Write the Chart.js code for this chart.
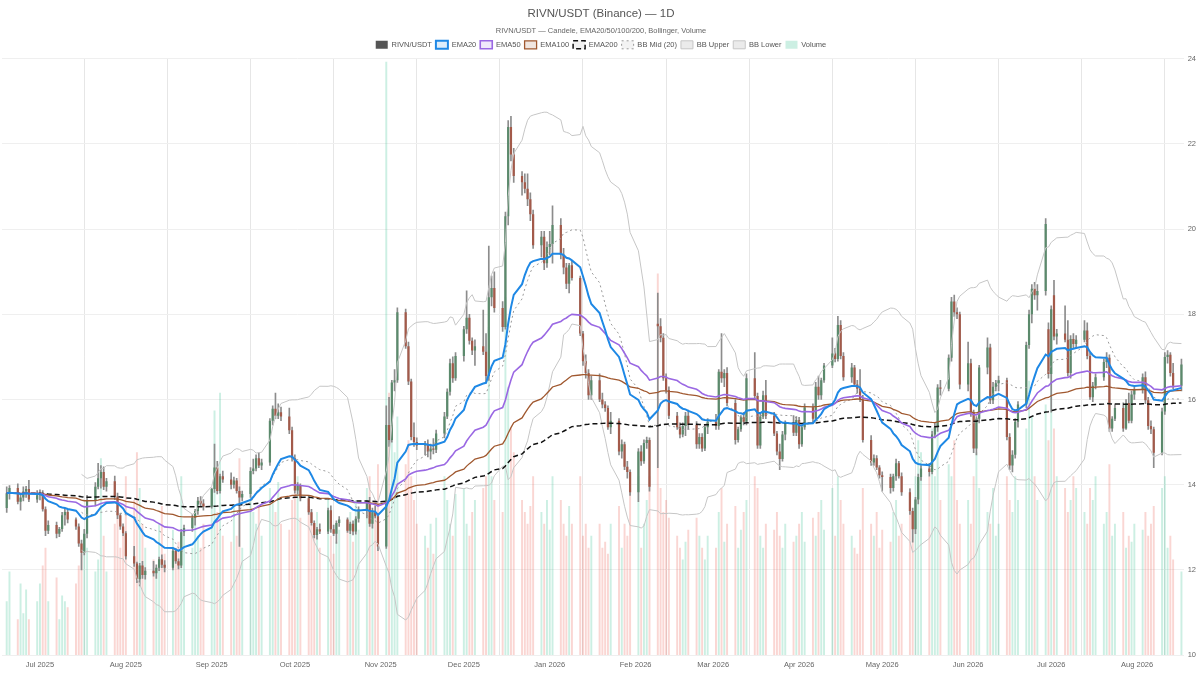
<!DOCTYPE html>
<html>
<head>
<meta charset="utf-8">
<script src="https://cdn.jsdelivr.net/npm/chart.js@4.4.1/dist/chart.umd.min.js"></script>
<style>
  html, body { margin: 0; background: #fff; }
  #wrap { width: 1200px; height: 675px; }
</style>
</head>
<body>
<div id="wrap"><canvas id="chart"></canvas></div>
<script>
// weekday candles (tokenised stock, no weekend sessions), first one Thu 2025-06-19
const startDate = '2025-06-19';

// one row per week
const opens = [
  13.45,13.80,
  13.92,13.60,13.70,13.84,13.90,
  13.65,13.75,13.80,13.42,12.92,
  13.05,12.85,12.96,13.28,13.36,
  13.18,13.02,12.62,12.40,12.85,
  13.62,13.95,14.15,14.30,13.95,
  14.08,13.72,13.28,13.02,12.86,
  12.32,12.15,11.78,12.10,11.88,
  11.98,11.92,12.05,12.25,12.12,
  12.05,12.45,12.20,12.10,12.88,
  12.98,13.22,13.38,13.62,13.56,
  13.48,13.90,14.40,13.85,14.20,
  14.12,14.00,14.10,13.85,13.70,
  13.78,14.32,14.38,14.62,14.45,
  14.52,15.50,15.78,15.62,15.70,
  15.60,15.28,14.62,13.86,13.98,
  13.68,13.35,13.10,12.82,12.95,
  12.90,13.40,12.95,12.85,13.10,
  13.18,12.92,13.08,12.90,13.20,
  13.42,13.58,13.08,13.35,13.26,
  12.55,15.40,15.05,16.40,16.45,
  18.05,17.25,16.42,15.12,15.00,
  14.92,14.96,14.78,14.85,14.82,
  15.20,15.60,16.18,16.85,16.50,
  17.02,17.65,17.92,17.38,17.15,
  17.25,17.12,16.55,18.40,18.62,
  18.15,17.70,20.30,22.40,21.75,
  21.25,21.10,20.95,20.70,20.35,
  19.62,19.82,19.20,19.58,19.65,
  20.10,19.40,19.10,18.72,19.15,
  18.85,17.55,16.90,16.62,16.10,
  16.45,16.00,15.88,15.80,15.35,
  15.50,14.78,14.95,14.42,14.30,
  13.82,14.78,14.55,14.98,15.05,
  17.78,17.72,17.45,16.50,16.22,
  15.62,15.35,15.18,15.38,15.62,
  15.40,14.95,15.12,14.85,15.35,
  15.48,15.38,16.65,16.50,16.62,
  15.92,15.05,15.30,15.58,15.48,
  16.50,16.08,14.92,15.60,16.10,
  15.62,15.20,14.78,14.60,15.18,
  15.45,15.22,15.52,14.95,15.35,
  15.82,15.55,16.30,16.10,16.45,
  16.80,17.08,16.95,17.75,17.02,
  16.52,16.75,16.35,16.25,16.00,
  15.05,14.52,14.62,14.40,14.22,
  14.18,13.92,14.20,14.50,14.20,
  13.82,13.38,12.95,13.65,14.18,
  14.38,14.30,15.18,15.35,16.28,
  16.25,16.98,18.30,18.05,18.00,
  16.35,16.85,15.70,14.85,15.55,
  16.75,17.22,15.98,16.30,16.38,
  16.45,15.12,14.45,14.70,15.48,
  15.88,17.28,18.00,18.60,18.45,
  18.55,17.65,16.60,18.45,17.48,
  17.55,17.40,16.62,17.42,17.30,
  17.40,17.62,17.02,16.05,16.32,
  16.52,16.88,16.98,15.32,15.55,
  15.80,15.32,15.92,15.50,16.12,
  16.22,16.52,15.98,15.38,15.30,
  14.75,15.72,17.00,17.05,16.62,
  16.32
];

const highs = [
  13.95,13.98,
  14.02,13.78,13.95,13.96,14.10,
  13.86,13.88,13.86,13.48,13.15,
  13.12,13.00,13.35,13.45,13.42,
  13.22,13.08,12.70,12.95,13.75,
  14.05,14.50,14.45,14.42,14.15,
  14.20,13.80,13.32,13.08,12.90,
  12.55,12.18,12.15,12.20,12.05,
  12.20,12.12,12.30,12.35,12.22,
  12.50,12.50,12.26,12.95,13.05,
  13.30,13.42,13.70,13.72,13.65,
  13.92,14.95,14.55,14.25,14.32,
  14.28,14.18,14.15,13.95,13.85,
  14.40,14.60,14.70,14.75,14.60,
  15.55,15.85,16.15,15.90,15.82,
  15.80,15.35,14.70,14.05,14.02,
  13.75,13.42,13.15,13.00,13.08,
  13.45,13.50,13.05,13.15,13.25,
  13.22,13.12,13.15,13.25,13.48,
  13.62,13.70,13.45,13.50,13.32,
  15.85,16.05,16.45,16.70,18.15,
  18.12,17.35,16.48,15.45,15.10,
  15.02,15.05,14.95,15.08,15.28,
  15.70,16.25,16.95,17.00,17.10,
  17.72,18.55,18.00,17.45,17.40,
  18.10,17.55,19.60,18.90,19.00,
  18.30,20.40,22.55,22.65,21.90,
  21.35,21.30,21.30,20.85,20.45,
  19.95,19.95,19.70,19.95,20.55,
  20.25,19.55,19.20,19.20,19.25,
  18.90,17.60,17.05,16.70,16.55,
  16.60,16.15,15.95,15.85,15.70,
  15.55,15.05,15.00,14.55,14.35,
  14.85,14.92,15.05,15.12,15.10,
  18.50,17.90,17.55,16.60,16.30,
  15.70,15.45,15.45,15.70,15.75,
  15.48,15.20,15.20,15.40,15.55,
  15.65,16.70,17.55,16.70,16.75,
  16.00,15.35,15.62,15.70,16.60,
  17.10,16.15,15.65,16.20,16.45,
  15.70,15.25,14.95,15.25,15.50,
  15.62,15.60,15.58,15.40,15.90,
  15.90,16.40,16.55,16.50,16.85,
  17.45,17.20,17.95,17.85,17.10,
  16.85,16.80,16.45,16.70,16.10,
  15.15,14.70,14.68,14.45,14.30,
  14.25,14.25,14.60,14.55,14.28,
  13.90,13.45,13.70,14.25,14.45,
  14.50,15.25,15.45,16.35,16.45,
  17.05,18.40,18.45,18.15,18.05,
  17.35,16.95,15.75,15.60,16.80,
  17.45,17.30,16.40,16.45,16.55,
  16.50,15.20,14.80,15.55,15.95,
  17.35,18.10,18.70,18.75,18.70,
  20.25,17.80,18.20,18.80,17.65,
  18.20,17.85,17.50,17.55,17.50,
  17.85,17.80,17.10,16.40,16.60,
  16.95,17.10,17.05,15.60,15.90,
  15.92,16.00,16.15,16.20,16.30,
  16.60,16.65,16.05,15.50,15.35,
  15.80,17.10,17.15,17.10,16.85,
  16.95
];

const lows = [
  13.35,13.66,
  13.55,13.40,13.62,13.70,13.60,
  13.58,13.64,13.38,12.80,12.85,
  12.75,12.78,12.90,13.05,13.10,
  12.95,12.55,12.00,12.35,12.75,
  13.50,13.90,13.92,13.88,13.85,
  13.65,13.20,12.95,12.80,12.25,
  12.08,11.70,11.62,11.80,11.78,
  11.85,11.80,11.98,12.05,11.95,
  12.00,12.15,12.02,12.05,12.80,
  12.90,13.05,13.30,13.50,13.40,
  13.45,13.82,13.78,13.80,14.05,
  13.90,13.92,13.80,12.55,13.62,
  13.70,14.25,14.32,14.40,14.35,
  14.45,15.40,15.55,15.55,15.50,
  15.20,14.55,13.80,13.78,13.62,
  13.30,13.05,12.75,12.72,12.85,
  12.85,12.88,12.80,12.62,13.02,
  12.88,12.85,12.82,12.84,13.12,
  13.22,13.02,12.98,13.22,12.45,
  12.50,14.90,15.00,16.20,16.40,
  17.20,16.35,15.05,14.90,14.82,
  14.70,14.65,14.60,14.72,14.75,
  15.10,15.55,16.10,16.40,16.45,
  16.90,17.55,17.30,17.05,16.80,
  17.05,16.40,16.45,18.20,18.05,
  17.60,17.65,20.10,21.60,21.10,
  20.80,20.85,20.55,20.20,19.55,
  19.35,19.05,19.10,19.40,19.20,
  19.30,18.95,18.60,18.50,18.80,
  17.50,16.80,16.50,16.00,16.00,
  15.95,15.80,15.72,15.30,15.20,
  14.70,14.62,14.35,14.15,13.75,
  13.60,14.45,14.50,14.85,13.85,
  14.40,17.35,16.45,16.15,15.55,
  15.30,15.10,15.12,15.15,15.30,
  14.85,14.85,14.78,14.80,15.20,
  15.30,15.30,16.40,16.30,15.85,
  14.95,15.00,15.25,15.40,15.40,
  16.00,14.85,14.85,15.55,15.55,
  15.15,14.70,14.35,14.55,15.05,
  15.15,15.15,14.85,14.90,15.30,
  15.45,15.50,16.00,16.00,16.40,
  16.75,16.88,16.90,16.95,16.45,
  16.40,16.30,16.15,15.95,15.00,
  14.45,14.45,14.35,14.15,13.85,
  13.80,13.85,14.10,14.15,13.75,
  13.30,12.65,12.85,13.55,14.10,
  14.20,14.25,15.10,15.25,16.10,
  16.20,16.90,17.95,17.90,16.25,
  16.20,15.60,14.75,14.70,15.45,
  16.60,15.90,15.90,16.20,16.20,
  15.05,14.35,14.30,14.62,15.35,
  15.80,17.20,17.80,18.35,18.10,
  18.45,16.50,15.70,17.40,17.30,
  17.35,16.55,16.50,17.20,17.20,
  17.35,16.95,16.00,15.95,16.25,
  16.45,16.75,15.25,15.25,15.50,
  15.25,15.30,15.45,15.45,16.00,
  16.15,15.90,15.30,15.20,14.40,
  14.70,15.65,16.85,16.55,16.25,
  16.20
];

const closes = [
  13.80,13.92,
  13.60,13.70,13.84,13.90,13.65,
  13.75,13.80,13.42,12.92,13.05,
  12.85,12.96,13.28,13.36,13.18,
  13.02,12.62,12.40,12.85,13.62,
  13.95,14.15,14.30,13.95,14.08,
  13.72,13.28,13.02,12.86,12.32,
  12.15,11.78,12.10,11.88,11.98,
  11.92,12.05,12.25,12.12,12.05,
  12.45,12.20,12.10,12.88,12.98,
  13.22,13.38,13.62,13.56,13.48,
  13.90,14.40,13.85,14.20,14.12,
  14.00,14.10,13.85,13.70,13.78,
  14.32,14.38,14.62,14.45,14.52,
  15.50,15.78,15.62,15.70,15.60,
  15.28,14.62,13.86,13.98,13.68,
  13.35,13.10,12.82,12.95,12.90,
  13.40,12.95,12.85,13.10,13.18,
  12.92,13.08,12.90,13.20,13.42,
  13.58,13.08,13.35,13.26,12.55,
  15.40,15.05,16.40,16.45,18.05,
  17.25,16.42,15.12,15.00,14.92,
  14.96,14.78,14.85,14.82,15.20,
  15.60,16.18,16.85,16.50,17.02,
  17.65,17.92,17.38,17.15,17.25,
  17.12,16.55,18.40,18.62,18.15,
  17.70,20.30,22.40,21.75,21.25,
  21.10,20.95,20.70,20.35,19.62,
  19.82,19.20,19.58,19.65,20.10,
  19.40,19.10,18.72,19.15,18.85,
  17.55,16.90,16.62,16.10,16.45,
  16.00,15.88,15.80,15.35,15.50,
  14.78,14.95,14.42,14.30,13.82,
  14.78,14.55,14.98,15.05,13.95,
  17.72,17.45,16.50,16.22,15.62,
  15.35,15.18,15.38,15.62,15.40,
  14.95,15.12,14.85,15.35,15.48,
  15.38,16.65,16.50,16.62,15.92,
  15.05,15.30,15.58,15.48,16.50,
  16.08,14.92,15.60,16.10,15.62,
  15.20,14.78,14.60,15.18,15.45,
  15.22,15.52,14.95,15.35,15.82,
  15.55,16.30,16.10,16.45,16.80,
  17.08,16.95,17.75,17.02,16.52,
  16.75,16.35,16.25,16.00,15.05,
  14.52,14.62,14.40,14.22,14.18,
  13.92,14.20,14.50,14.20,13.82,
  13.38,12.95,13.65,14.18,14.38,
  14.30,15.18,15.35,16.28,16.25,
  16.98,18.30,18.05,18.00,16.35,
  16.85,15.70,14.85,15.55,16.75,
  17.22,15.98,16.30,16.38,16.45,
  15.12,14.45,14.70,15.48,15.88,
  17.28,18.00,18.60,18.45,18.55,
  20.12,16.60,18.12,17.48,17.55,
  17.40,16.62,17.42,17.30,17.40,
  17.62,17.02,16.05,16.32,16.52,
  16.88,16.98,15.32,15.55,15.80,
  15.32,15.92,15.50,16.12,16.22,
  16.52,15.98,15.38,15.30,14.75,
  15.72,17.00,17.05,16.62,16.32,
  16.82
];

// volume, relative units (share of plot height)
const volumes = [
  9,14,
  6,12,7,11,6,
  9,12,15,18,9,
  13,6,10,9,8,
  12,15,17,21,18,
  14,16,33,20,14,
  22,25,18,20,30,
  26,34,28,22,18,
  16,14,22,25,17,
  21,18,19,30,20,
  18,23,20,18,22,
  28,41,24,44,20,
  19,25,20,33,18,
  28,24,22,25,20,
  28,26,24,29,22,
  21,26,28,30,23,
  25,22,20,24,18,
  26,20,17,19,21,
  22,24,19,26,21,
  28,30,24,26,32,
  99.5,44,38,34,40,
  32,36,30,26,22,
  20,18,22,17,23,
  30,26,22,20,27,
  28,22,20,24,26,
  28,30,55,30,26,
  24,60,45,38,34,
  26,24,22,25,30,
  24,22,26,21,30,
  26,22,20,25,22,
  30,20,22,18,20,
  22,18,19,17,22,
  25,18,22,20,28,
  30,18,22,26,30,
  64,28,24,26,23,
  20,18,16,19,21,
  23,20,18,16,20,
  18,24,28,19,22,
  25,18,21,24,26,
  30,28,20,18,22,
  21,24,20,18,22,
  19,20,22,24,19,
  23,20,24,26,21,
  28,20,30,26,22,
  20,18,17,21,28,
  22,20,24,18,21,
  19,24,26,20,22,
  28,24,30,36,34,
  30,38,30,40,26,
  32,30,36,26,22,
  26,22,30,34,28,
  24,22,28,20,22,
  30,26,24,30,26,
  38,46,40,30,26,
  42,36,55,38,30,
  28,24,26,30,28,
  24,22,28,26,30,
  22,24,32,20,22,
  24,18,20,19,22,
  21,24,20,22,25,
  28,30,18,20,16,
  14
];

const priceTicks = [10, 12, 14, 16, 18, 20, 22, 24];
const monthNames = ['Jan','Feb','Mar','Apr','May','Jun','Jul','Aug','Sep','Oct','Nov','Dec'];

// trading days -> day offsets from the first candle
const DAY = 86400000;
const t0 = Date.parse(startDate + 'T00:00:00Z');
const days = [];
for (let d = 0; days.length < closes.length; d++) {
  const wd = new Date(t0 + d * DAY).getUTCDay();
  if (wd !== 0 && wd !== 6) days.push(d);
}
const lastDay = days[days.length - 1];

// month starts for the axis labels, a light grid line every 30 days
const monthTicks = {};
for (let d = 0; d <= lastDay + 1; d++) {
  const dt = new Date(t0 + d * DAY);
  if (dt.getUTCDate() === 1) monthTicks[d] = monthNames[dt.getUTCMonth()] + ' ' + dt.getUTCFullYear();
}
const gridDays = [];
for (let d = 28; d <= lastDay; d += 30) gridDays.push(d);

const ema = (src, n) => {
  const k = 2 / (n + 1);
  const out = [];
  src.forEach((v, i) => out.push(i === 0 ? v : v * k + out[i - 1] * (1 - k)));
  return out;
};

const bollinger = (src, n, mult) => {
  const mid = [], up = [], lo = [];
  src.forEach((v, i) => {
    if (i < n - 1) { mid.push(null); up.push(null); lo.push(null); return; }
    const win = src.slice(i - n + 1, i + 1);
    const m = win.reduce((a, b) => a + b, 0) / n;
    const sd = Math.sqrt(win.reduce((a, b) => a + (b - m) * (b - m), 0) / n);
    mid.push(m); up.push(m + mult * sd); lo.push(m - mult * sd);
  });
  return { mid, up, lo };
};

const xy = arr => arr.map((v, i) => ({ x: days[i], y: v }));
const bb = bollinger(closes, 20, 2);
const isUp = closes.map((c, i) => c >= opens[i]);
const candleCol = isUp.map(u => u ? '#5b8a6c' : '#a35a4a');
const volCol = isUp.map(u => u ? 'rgba(40,190,140,0.24)' : 'rgba(235,95,85,0.26)');

const lineDs = (label, data, color, fillColor, width, dash, order) => ({
  type: 'line', label, data: xy(data),
  borderColor: color, backgroundColor: fillColor,
  borderWidth: width, borderDash: dash || [],
  pointRadius: 0, fill: false, tension: 0, order
});

const tickFont = { size: 7.5 };

new Chart(document.getElementById('chart'), {
  type: 'bar',
  data: {
    datasets: [
      { label: 'RIVN/USDT', data: opens.map((o, i) => ({ x: days[i], y: [o, closes[i]] })),
        backgroundColor: candleCol, borderColor: candleCol, borderWidth: 0,
        barPercentage: 0.8, categoryPercentage: 1, grouped: false, minBarLength: 1, order: 4 },
      lineDs('EMA20', ema(closes, 20), '#1e88e5', 'rgba(30,136,229,0.15)', 2, null, 1),
      lineDs('EMA50', ema(closes, 50), '#9a68e3', 'rgba(154,104,227,0.15)', 1.6, null, 1),
      lineDs('EMA100', ema(closes, 100), '#a0582f', 'rgba(160,88,47,0.15)', 1.3, null, 1),
      lineDs('EMA200', ema(closes, 200), '#111111', 'rgba(0,0,0,0.05)', 1.5, [5, 3], 1),
      lineDs('BB Mid (20)', bb.mid, '#9a9a9a', 'rgba(160,160,160,0.12)', 1, [2, 3], 2),
      lineDs('BB Upper', bb.up, '#c6c6c6', 'rgba(190,190,190,0.3)', 1, null, 2),
      lineDs('BB Lower', bb.lo, '#c6c6c6', 'rgba(190,190,190,0.3)', 1, null, 2),
      { label: 'Volume', data: xy(volumes), yAxisID: 'vol',
        backgroundColor: volCol, barPercentage: 0.7, categoryPercentage: 1,
        grouped: false, order: 10 },
      { label: 'wick', data: lows.map((l, i) => ({ x: days[i], y: [l, highs[i]] })),
        backgroundColor: '#8c8c8c', barThickness: 1, grouped: false, order: 5 }
    ]
  },
  options: {
    responsive: true,
    maintainAspectRatio: false,
    animation: false,
    devicePixelRatio: 1,
    layout: { padding: { left: 2, right: 0, top: 0, bottom: 1 } },
    font: { family: "'Liberation Sans', Arial, sans-serif" },
    scales: {
      x: {
        type: 'linear', min: -1.7, max: 424.8, offset: false,
        afterBuildTicks: axis => {
          const vals = Object.keys(monthTicks).map(Number).concat(gridDays);
          axis.ticks = vals.sort((a, b) => a - b).map(v => ({ value: v }));
        },
        grid: {
          drawTicks: false, offset: false,
          color: ctx => (ctx.tick && gridDays.includes(ctx.tick.value) ? '#e6e6e6' : 'rgba(0,0,0,0)')
        },
        border: { display: false },
        ticks: {
          autoSkip: false, maxRotation: 0, minRotation: 0, padding: 5,
          color: '#666', font: tickFont,
          callback: v => monthTicks[v] || ''
        }
      },
      y: {
        position: 'right', min: 10, max: 24,
        afterBuildTicks: axis => { axis.ticks = priceTicks.map(v => ({ value: v })); },
        grid: { color: '#efefef', drawTicks: false },
        border: { display: false },
        ticks: { color: '#666', font: tickFont, padding: 4 }
      },
      vol: { display: false, min: 0, max: 100 }
    },
    plugins: {
      title: {
        display: true, text: 'RIVN/USDT (Binance) — 1D',
        color: '#555', font: { size: 11.5, weight: 'normal' },
        padding: { top: 7, bottom: 5 }
      },
      subtitle: {
        display: true, text: 'RIVN/USDT — Candele, EMA20/50/100/200, Bollinger, Volume',
        color: '#666', font: { size: 7.5 }, padding: { top: 1, bottom: 1 }
      },
      legend: {
        labels: {
          boxWidth: 12, boxHeight: 8, padding: 4,
          color: '#555', font: { size: 7.5 },
          sort: (a, b) => a.datasetIndex - b.datasetIndex,
          filter: item => item.text !== 'wick',
          generateLabels: chart => {
            const items = Chart.defaults.plugins.legend.labels.generateLabels(chart);
            items.forEach(it => {
              if (it.text === 'RIVN/USDT') { it.fillStyle = '#555'; it.strokeStyle = '#555'; it.lineWidth = 0; }
              if (it.text === 'Volume') { it.fillStyle = 'rgba(40,190,140,0.24)'; it.strokeStyle = 'rgba(40,190,140,0.24)'; it.lineWidth = 0; }
            });
            return items;
          }
        }
      },
      tooltip: { enabled: false }
    }
  }
});
</script>
</body>
</html>
